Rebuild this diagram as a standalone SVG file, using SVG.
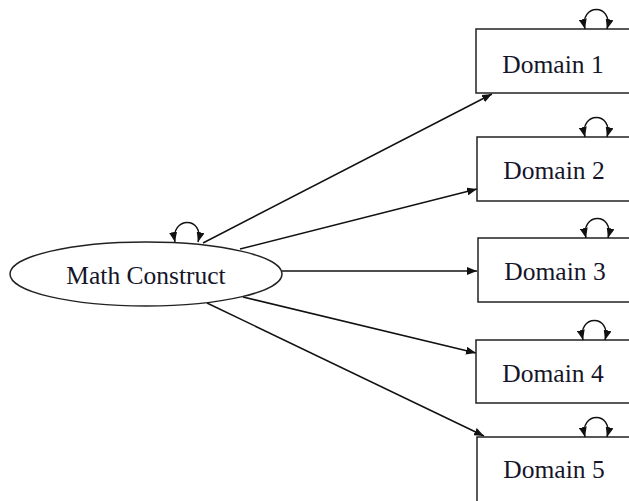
<svg xmlns="http://www.w3.org/2000/svg" width="629" height="501" viewBox="0 0 629 501">
<style>
.box{fill:#fff;stroke:#222;stroke-width:1.5}
.lbl{font-family:"Liberation Serif","Times New Roman",serif;font-size:25.5px;fill:#15152a;text-anchor:middle}
.edge{fill:none;stroke:#111;stroke-width:1.5}
.loop{fill:none;stroke:#111;stroke-width:1.5;marker-start:url(#ah);marker-end:url(#ah)}
</style>
<defs>
<marker id="ah" viewBox="0 0 10 8" refX="10" refY="4" markerWidth="10" markerHeight="8" markerUnits="userSpaceOnUse" orient="auto-start-reverse">
<path d="M0,0 L10,4 L0,8 Z" fill="#111"/>
</marker>
</defs>
<rect width="629" height="501" fill="#fff"/>
<g id="connectors">
<line class="edge" x1="203" y1="243" x2="492" y2="94" marker-end="url(#ah)"/>
<line class="edge" x1="240" y1="249" x2="477" y2="189" marker-end="url(#ah)"/>
<line class="edge" x1="282" y1="271" x2="477" y2="271" marker-end="url(#ah)"/>
<line class="edge" x1="243" y1="297" x2="476" y2="353" marker-end="url(#ah)"/>
<line class="edge" x1="207" y1="303" x2="484" y2="436" marker-end="url(#ah)"/>
</g>
<g id="math-construct">
<ellipse cx="146" cy="274" rx="136" ry="32" class="box"/>
<path class="loop" d="M175 242 C170 216, 205 216, 198 242"/>
<text class="lbl" x="146" y="284">Math Construct</text>
</g>
<g id="domain1">
<rect class="box" x="476" y="29" width="170" height="64"/>
<path class="loop" d="M585 29 C579 3, 614 3, 607 29"/>
<text class="lbl" x="553" y="73">Domain 1</text>
</g>
<g id="domain2">
<rect class="box" x="477" y="137" width="170" height="64"/>
<path class="loop" d="M585 137 C579 111, 614 111, 607 137"/>
<text class="lbl" x="554" y="179">Domain 2</text>
</g>
<g id="domain3">
<rect class="box" x="478" y="238" width="170" height="64"/>
<path class="loop" d="M586 238 C580 212, 615 212, 608 238"/>
<text class="lbl" x="555" y="280">Domain 3</text>
</g>
<g id="domain4">
<rect class="box" x="476" y="340" width="170" height="63"/>
<path class="loop" d="M583 340 C577 314, 612 314, 605 340"/>
<text class="lbl" x="553" y="382">Domain 4</text>
</g>
<g id="domain5">
<rect class="box" x="477" y="437" width="170" height="80"/>
<path class="loop" d="M585 437 C579 411, 614 411, 607 437"/>
<text class="lbl" x="554" y="478">Domain 5</text>
</g>
</svg>
